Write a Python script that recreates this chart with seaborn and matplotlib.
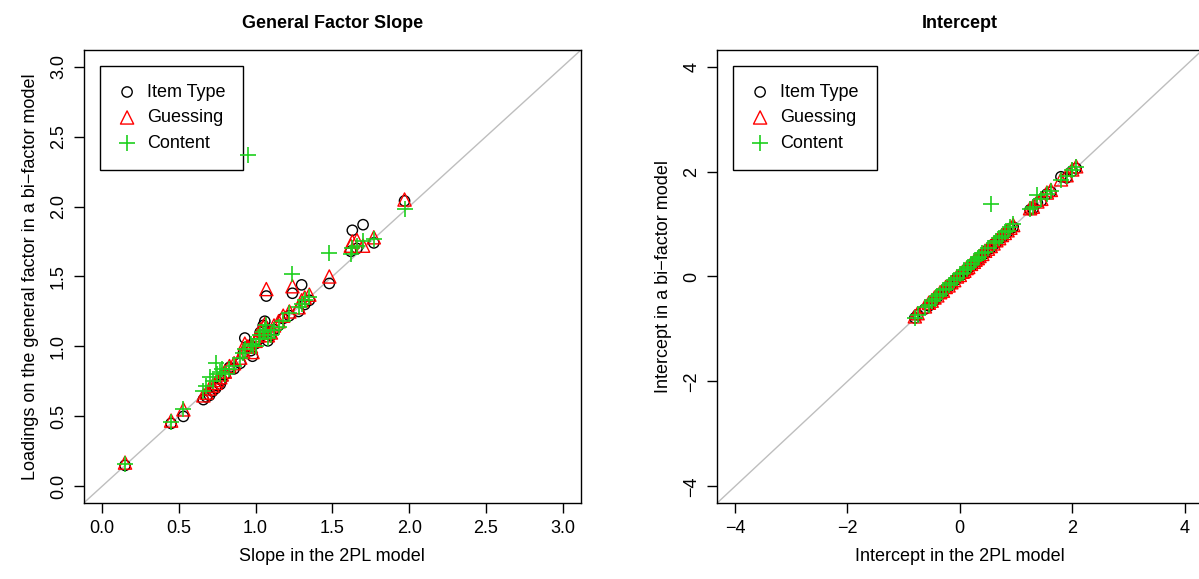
import matplotlib
matplotlib.use("Agg")
import matplotlib.pyplot as plt
import seaborn as sns

# General factor slope: 2PL slope vs. bi-factor general loading
slope_2pl = [0.15, 0.45, 0.53, 0.66, 0.68, 0.70, 0.72, 0.74, 0.75, 0.77, 0.78,
             0.80, 0.83, 0.86, 0.90, 0.92, 0.93, 0.95, 0.97, 0.98, 1.00, 1.02,
             1.03, 1.05, 1.06, 1.08, 1.10, 1.07, 1.12, 1.15, 1.18, 1.22, 1.24,
             1.28, 1.30, 1.32, 1.35, 1.48, 1.62, 1.63, 1.66, 1.70, 1.77, 1.97]
slope_item = [0.15, 0.45, 0.50, 0.62, 0.64, 0.65, 0.68, 0.70, 0.72, 0.73, 0.76,
              0.80, 0.85, 0.84, 0.88, 0.95, 1.06, 1.00, 0.97, 0.93, 1.02, 1.05,
              1.10, 1.15, 1.18, 1.04, 1.08, 1.36, 1.12, 1.15, 1.20, 1.22, 1.38,
              1.25, 1.44, 1.30, 1.33, 1.45, 1.68, 1.83, 1.70, 1.87, 1.74, 2.04]
slope_guess = [0.17, 0.47, 0.55, 0.65, 0.67, 0.70, 0.72, 0.74, 0.76, 0.78, 0.80,
               0.82, 0.86, 0.88, 0.92, 0.97, 1.02, 1.00, 1.00, 0.96, 1.04, 1.08,
               1.12, 1.14, 1.16, 1.08, 1.10, 1.41, 1.15, 1.18, 1.22, 1.25, 1.43,
               1.28, 1.33, 1.35, 1.37, 1.50, 1.72, 1.75, 1.76, 1.72, 1.78, 2.05]
slope_content = [0.16, 0.46, 0.55, 0.68, 0.72, 0.78, 0.75, 0.88, 0.80, 0.82, 0.84,
                 0.80, 0.84, 0.86, 0.92, 0.95, 0.98, 2.37, 1.02, 1.00, 1.00, 1.05,
                 1.08, 1.10, 1.12, 1.06, 1.08, 1.15, 1.12, 1.14, 1.18, 1.24, 1.52,
                 1.28, 1.30, 1.33, 1.35, 1.67, 1.66, 1.70, 1.72, 1.75, 1.77, 1.98]

# Intercept: 2PL intercept vs. bi-factor intercept
int_2pl = [-0.80, -0.75, -0.62, -0.55, -0.50, -0.45, -0.40, -0.35, -0.30, -0.25,
           -0.20, -0.15, -0.10, -0.05, 0.00, 0.05, 0.08, 0.12, 0.15, 0.20, 0.25,
           0.28, 0.32, 0.35, 0.40, 0.45, 0.50, 0.55, 0.60, 0.65, 0.70, 0.75, 0.80,
           0.85, 0.90, 0.95, 1.25, 1.30, 1.38, 1.45, 1.55, 1.62, 1.80, 1.90, 2.00, 2.07]
int_item = [-0.79, -0.73, -0.62, -0.56, -0.49, -0.46, -0.39, -0.34, -0.31, -0.24,
            -0.19, -0.16, -0.09, -0.04, 0.01, 0.04, 0.09, 0.11, 0.16, 0.19, 0.26,
            0.27, 0.33, 0.34, 0.41, 0.44, 0.51, 0.54, 0.61, 0.64, 0.71, 0.74, 0.81,
            0.84, 0.91, 0.94, 1.27, 1.29, 1.40, 1.44, 1.57, 1.61, 1.90, 1.88, 2.01, 2.06]
int_guess = [-0.76, -0.70, -0.57, -0.50, -0.46, -0.40, -0.36, -0.30, -0.27, -0.20,
             -0.17, -0.11, -0.07, 0.00, 0.03, 0.09, 0.11, 0.16, 0.18, 0.24, 0.28,
             0.32, 0.35, 0.39, 0.43, 0.49, 0.53, 0.58, 0.63, 0.69, 0.73, 0.79, 0.83,
             0.88, 0.93, 0.98, 1.30, 1.33, 1.43, 1.48, 1.60, 1.65, 1.85, 1.93, 2.04, 2.10]
int_content = [-0.80, -0.74, -0.58, -0.54, -0.47, -0.42, -0.37, -0.33, -0.26, -0.23,
               -0.16, -0.13, -0.06, -0.03, 0.04, 0.07, 0.12, 0.14, 0.19, 0.23, 0.29,
               0.31, 0.36, 0.38, 0.44, 0.47, 0.54, 1.38, 0.64, 0.68, 0.74, 0.78, 0.84,
               0.87, 0.95, 1.00, 1.28, 1.32, 1.55, 1.47, 1.58, 1.63, 1.83, 1.91, 2.02, 2.08]

slope_ticks = [0.0, 0.5, 1.0, 1.5, 2.0, 2.5, 3.0]
int_ticks = [-4, -2, 0, 2, 4]

sns.set_style("white")
plt.rcParams["font.family"] = ["Liberation Sans", "DejaVu Sans"]
plt.rcParams["axes.unicode_minus"] = True
for key in ["text.color", "axes.labelcolor", "xtick.color", "ytick.color"]:
    plt.rcParams[key] = "black"

fig = plt.figure(figsize=(11.99, 5.79), dpi=100)
ax1 = fig.add_axes([0.0697, 0.131, 0.415, 0.783])
ax2 = fig.add_axes([0.598, 0.131, 0.405, 0.783])

GREEN = "#1ED01E"


def panel(ax, x, y_item, y_guess, y_content, ticks, lim, title, xlabel, ylabel, fmt):
    ax.axline((0, 0), slope=1, color="#BEBEBE", lw=1, zorder=1)
    sns.scatterplot(x=x, y=y_item, ax=ax, marker="o", s=55, facecolor="none",
                    edgecolor="black", linewidth=1, label="Item Type", zorder=3)
    sns.scatterplot(x=x, y=y_guess, ax=ax, marker="^", s=90, facecolor="none",
                    edgecolor="red", linewidth=1, label="Guessing", zorder=4)
    sns.scatterplot(x=x, y=y_content, ax=ax, marker="+", s=130, color=GREEN,
                    linewidth=1.2, label="Content", zorder=5)
    ax.set_xlim(*lim)
    ax.set_ylim(*lim)
    ax.set_xticks(ticks)
    ax.set_yticks(ticks)
    ax.set_xticklabels([fmt(t) for t in ticks])
    ax.set_yticklabels([fmt(t) for t in ticks], rotation=90, va="center")
    ax.tick_params(axis="both", direction="out", length=7, width=1, labelsize=13,
                   bottom=True, left=True, color="black", labelcolor="black")
    ax.tick_params(axis="x", pad=5)
    ax.tick_params(axis="y", pad=5)
    for s in ax.spines.values():
        s.set_color("black")
        s.set_linewidth(1)
    ax.set_title(title, fontsize=13, fontweight="bold", pad=16, color="black")
    ax.set_xlabel(xlabel, fontsize=13, labelpad=8, color="black")
    ax.set_ylabel(ylabel, fontsize=13, labelpad=8, color="black")
    leg = ax.legend(loc="upper left", bbox_to_anchor=(0.033, 0.965), borderaxespad=0,
                    fontsize=13, frameon=True, fancybox=False, framealpha=1,
                    edgecolor="black", handlelength=1.0, handletextpad=0.6,
                    labelspacing=0.47, borderpad=1.0)
    frame = leg.get_frame()
    frame.set_linewidth(1)
    frame.set_facecolor("none")
    leg.set_zorder(2)
    for t in leg.get_texts():
        t.set_color("black")
    ax.grid(False)


panel(ax1, slope_2pl, slope_item, slope_guess, slope_content, slope_ticks,
      (-0.12, 3.12), "General Factor Slope", "Slope in the 2PL model",
      "Loadings on the general factor in a bi\u2212factor model", lambda t: f"{t:.1f}")
panel(ax2, int_2pl, int_item, int_guess, int_content, int_ticks,
      (-4.32, 4.32), "Intercept", "Intercept in the 2PL model",
      "Intercept in a bi\u2212factor model", lambda t: f"{t:d}".replace("-", "\u2212"))

fig.savefig("out.png", dpi=100)
